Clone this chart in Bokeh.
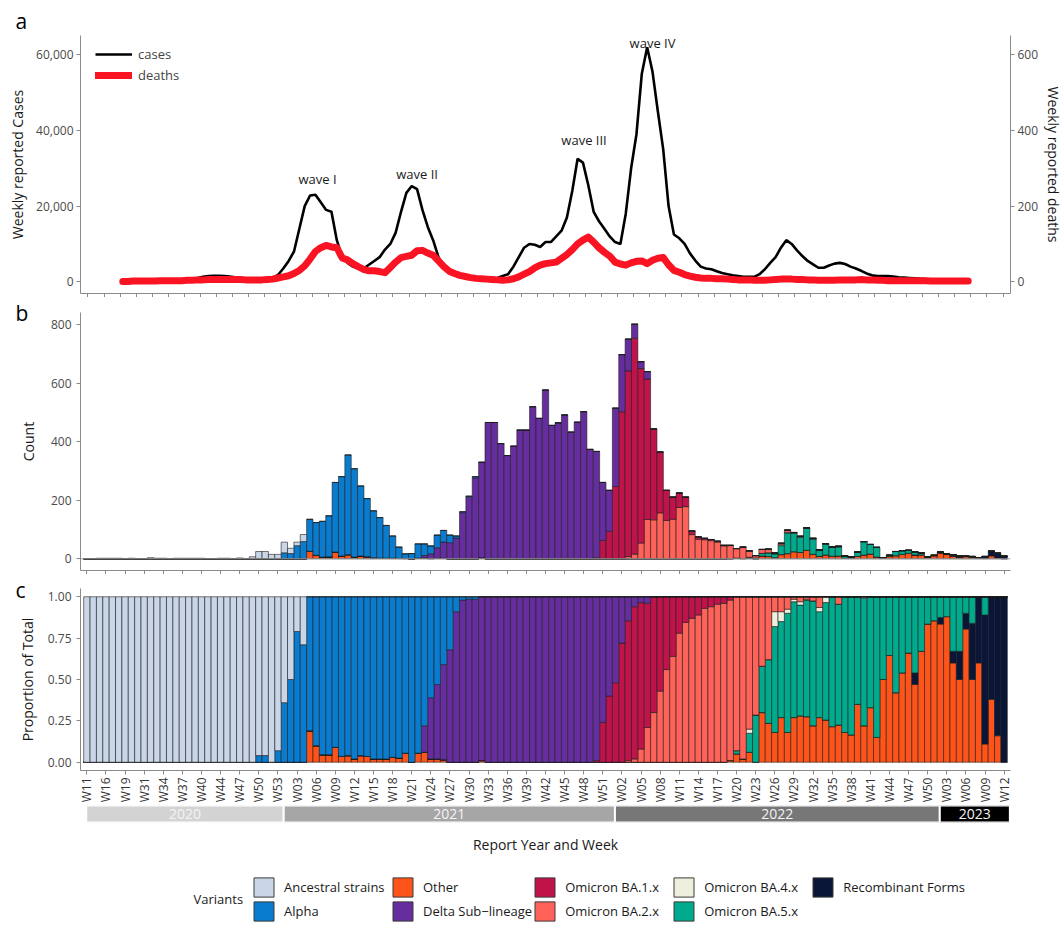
import math
from bokeh.plotting import figure
from bokeh.models import (Range1d, LinearAxis, FixedTicker, SingleIntervalTicker,
                          NumeralTickFormatter, Label, Legend, LegendItem,
                          ColumnDataSource, Span, Title)
from bokeh.layouts import column
from bokeh.embed import file_html
from bokeh.resources import INLINE
from bokeh.core.properties import value

FONT = "Open Sans"

# ---------------- panel a: weekly reported cases / deaths (weekly, 2020 W11 .. 2023 W12) -------------
cases = [100, 200, 300, 300, 300, 300, 250, 250, 300, 300,
         350, 400, 500, 700, 1000, 1300, 1500, 1600, 1600, 1500,
         1400, 1200, 1000, 900, 800, 800, 800, 900, 1000, 1800,
         3500, 5500, 8000, 14000, 20000, 22800, 23000, 21000, 19000, 18500,
         11000, 6500, 5000, 4000, 3500, 3500, 4500, 5500, 6500, 8500,
         10000, 13000, 18500, 23500, 25300, 24500, 19000, 14500, 11000, 6500,
         4000, 2800, 2000, 1500, 1200, 1000, 900, 800, 800, 900,
         1000, 1500, 2000, 4000, 6500, 9000, 10000, 9800, 9200, 10500,
         10500, 12000, 13500, 17000, 24000, 32500, 31500, 25500, 18500, 16000,
         14000, 12000, 10500, 10000, 18000, 30000, 39000, 55000, 62000, 55500,
         45000, 35000, 20000, 12500, 11500, 10000, 7500, 5600, 4000, 3500,
         3300, 2800, 2300, 2000, 1700, 1500, 1300, 1300, 1300, 2000,
         3300, 5000, 6500, 9000, 11000, 10000, 8300, 6800, 5500, 4600,
         3700, 3700, 4300, 4800, 5000, 4700, 4000, 3500, 2900, 2200,
         1700, 1500, 1500, 1500, 1400, 1200, 1100, 1000, 900, 800,
         700, 500, 400, 350, 300, 250, 220, 200, 170]
deaths = [1, 1, 2, 2, 2, 2, 2, 3, 3, 3,
          3, 3, 4, 4, 5, 5, 6, 6, 6, 6,
          6, 6, 6, 5, 5, 5, 5, 6, 7, 10,
          13, 16, 22, 30, 42, 60, 80, 90, 96, 92,
          90, 63, 58, 48, 40, 33, 29, 29, 27, 24,
          38, 52, 64, 67, 70, 82, 83, 76, 70, 55,
          40, 28, 22, 17, 14, 11, 9, 8, 7, 6,
          5, 4, 5, 8, 13, 20, 27, 37, 44, 48,
          50, 52, 62, 72, 85, 100, 110, 118, 105, 90,
          78, 68, 52, 47, 44, 50, 54, 55, 48, 57,
          62, 64, 45, 30, 25, 19, 15, 12, 10, 9,
          9, 8, 8, 7, 6, 5, 5, 5, 4, 4,
          4, 5, 6, 7, 7, 7, 6, 6, 5, 5,
          4, 4, 4, 4, 5, 5, 5, 5, 6, 5,
          5, 4, 4, 3, 3, 3, 3, 3, 3, 3,
          3, 2, 2, 2, 2, 2, 2, 2, 2]
wave_names = ["wave I", "wave II", "wave III", "wave IV"]
wave_week = [36.4, 55.0, 86.2, 99.0]
wave_height = [27200, 28600, 37600, 63000]

# ---------------- panels b / c: sequenced samples per report week -------------
weeks_2020 = ["W11", "W12", "W14", "W16", "W17", "W18", "W19", "W22", "W27", "W31", "W32",
              "W33", "W34", "W35", "W36", "W37", "W38", "W39", "W40", "W41", "W43", "W44",
              "W45", "W46", "W47", "W48", "W49", "W50", "W51", "W52", "W53"]
weeks_2021 = ["W%02d" % k for k in range(1, 53)]
weeks_2022 = ["W%02d" % k for k in range(1, 52)]
weeks_2023 = ["W%02d" % k for k in range(2, 13)]
years = ["2020", "2021", "2022", "2023"]

total_count = [1, 1, 2, 2, 2, 2, 1, 2, 1, 1,
               4, 2, 2, 1, 2, 2, 2, 2, 2, 1,
               1, 2, 2, 1, 3, 1, 7, 25, 25, 15,
               15, 57, 36, 57, 83, 135, 124, 128, 147, 261,
               281, 355, 308, 249, 206, 164, 141, 114, 78, 40,
               17, 18, 51, 51, 44, 81, 97, 81, 78, 161,
               214, 281, 330, 466, 466, 394, 353, 385, 440, 440,
               520, 480, 577, 456, 465, 492, 433, 467, 503, 374,
               367, 261, 234, 515, 698, 751, 802, 674, 640, 444,
               365, 234, 211, 225, 211, 95, 75, 70, 66, 60,
               46, 46, 35, 40, 27, 11, 32, 33, 20, 53,
               98, 90, 77, 106, 70, 31, 52, 40, 43, 10,
               6, 23, 59, 49, 39, 4, 12, 25, 28, 29,
               24, 20, 6, 12, 23, 17, 14, 9, 9, 8,
               4, 8, 26, 19, 9]

share_ancestral = [1.0] * 27 + [0.96, 0.96, 1.0, 0.93, 0.64, 0.50, 0.21, 0.29] + [0.0] * 110
share_alpha = ([0.0] * 27 + [0.04, 0.04, 0.0, 0.07, 0.36, 0.50, 0.79, 0.71] +
               [0.81, 0.90, 0.955, 0.955, 0.91, 0.965, 0.96, 0.98, 0.96, 0.965,
                0.98, 0.98, 0.98, 0.97, 0.975, 0.945, 1.0, 0.945, 0.78, 0.61,
                0.53, 0.41, 0.32, 0.09, 0.02, 0.015, 0.015, 0.0] + [0.0] * 82)
share_other = ([0.0] * 35 +
               [0.19, 0.10, 0.045, 0.045, 0.09, 0.035, 0.04, 0.02, 0.04, 0.035,
                0.02, 0.02, 0.02, 0.03, 0.025, 0.055, 0.0, 0.055, 0.06, 0.02,
                0.02, 0.015, 0.0, 0.0, 0.0, 0.0, 0.0, 0.01] + [0.0] * 38 +
               [0.01, 0.05, 0.02, 0.06, 0.0, 0.30, 0.235, 0.18, 0.27, 0.18,
                0.27, 0.28, 0.275, 0.22, 0.27, 0.255, 0.215, 0.225, 0.18, 0.165,
                0.35, 0.22, 0.33, 0.15, 0.50, 0.645, 0.42, 0.54, 0.66, 0.47,
                0.67, 0.835, 0.855, 0.835, 0.88, 0.60, 0.50, 0.805, 0.50, 0.60,
                0.11, 0.38, 0.16, 0.0])
share_delta = ([0.0] * 53 + [0.16, 0.37, 0.45, 0.575, 0.68, 0.91, 0.98, 0.985, 0.985, 0.99] +
               [1.0] * 17 + [0.99, 0.76, 0.60, 0.52, 0.28, 0.145, 0.06, 0.035, 0.04] + [0.0] * 56)
share_ba1 = ([0.0] * 80 +
             [0.01, 0.24, 0.40, 0.48, 0.72, 0.845, 0.92, 0.885, 0.75, 0.70,
              0.57, 0.44, 0.36, 0.22, 0.155, 0.13, 0.11, 0.07, 0.06, 0.045,
              0.04, 0.02] + [0.0] * 43)
share_ba2 = ([0.0] * 85 +
             [0.01, 0.02, 0.08, 0.21, 0.30, 0.43, 0.56, 0.64, 0.78, 0.845,
              0.87, 0.89, 0.93, 0.94, 0.955, 0.96, 0.97, 0.93, 0.98, 0.80,
              0.715, 0.42, 0.38, 0.09, 0.09, 0.075, 0.015, 0.03, 0.015, 0.025,
              0.065, 0.0, 0.0, 0.045] + [0.0] * 26)
share_ba4 = ([0.0] * 104 +
             [0.025, 0.0, 0.0, 0.0, 0.09, 0.06, 0.025, 0.015, 0.02, 0.005,
              0.0, 0.025, 0.035, 0.0, 0.0, 0.0, 0.0, 0.0, 0.01] + [0.0] * 22)
share_ba5 = ([0.0] * 102 +
             [0.02, 0.0, 0.115, 0.285, 0.28, 0.385, 0.64, 0.58, 0.72, 0.70,
              0.67, 0.705, 0.755, 0.64, 0.71, 0.785, 0.73, 0.82, 0.835, 0.65,
              0.77, 0.67, 0.85, 0.50, 0.355, 0.58, 0.46, 0.34, 0.46, 0.33,
              0.165, 0.145, 0.125, 0.12, 0.33, 0.33, 0.10, 0.16, 0.0, 0.11,
              0.0, 0.0] + [0.0])
share_recomb = ([0.0] * 130 +
                [0.07, 0.0, 0.0, 0.0, 0.04, 0.0, 0.07, 0.17, 0.095, 0.34,
                 0.40, 0.78, 0.62, 0.84, 1.0])

# stacking order, bottom to top
stack_keys = ["other", "recomb", "ba5", "ba4", "ba2", "ba1", "delta", "alpha", "ancestral"]
variant_names = {"ancestral": "Ancestral strains", "alpha": "Alpha", "other": "Other",
                 "delta": "Delta Sub\u2212lineage", "ba1": "Omicron BA.1.x", "ba2": "Omicron BA.2.x",
                 "ba4": "Omicron BA.4.x", "ba5": "Omicron BA.5.x", "recomb": "Recombinant Forms"}
variant_colors = {"ancestral": "#C9D6E8", "alpha": "#0A7CCF", "other": "#FF5419",
                  "delta": "#652D9E", "ba1": "#C0134A", "ba2": "#FF6259",
                  "ba4": "#EFEFDD", "ba5": "#00AA8C", "recomb": "#0A1638"}
legend_order = ["ancestral", "alpha", "other", "delta", "ba1", "ba2", "ba4", "ba5", "recomb"]
shares = {"ancestral": share_ancestral, "alpha": share_alpha, "other": share_other,
          "delta": share_delta, "ba1": share_ba1, "ba2": share_ba2, "ba4": share_ba4,
          "ba5": share_ba5, "recomb": share_recomb}
year_colors = ["#D3D3D3", "#A6A6A6", "#777777", "#000000"]

# ---------------- derived tables -------------
week_labels = weeks_2020 + weeks_2021 + weeks_2022 + weeks_2023
year_sizes = [len(weeks_2020), len(weeks_2021), len(weeks_2022), len(weeks_2023)]
N = len(week_labels)
idx = list(range(N))

prop = {k: [] for k in stack_keys}
for i in range(N):
    s = sum(shares[k][i] for k in stack_keys)
    for k in stack_keys:
        prop[k].append(shares[k][i] / s if s else 0.0)
cnt = {k: [prop[k][i] * total_count[i] for i in range(N)] for k in stack_keys}

src_b = ColumnDataSource(dict(x=idx, **cnt))
src_c = ColumnDataSource(dict(x=idx, **prop))

year_start, year_end = [], []
pos = 0
for n in year_sizes:
    year_start.append(pos)
    year_end.append(pos + n - 1)
    pos += n

# ---------------- styling helpers -------------
LEFT = 80


def style_axis(ax, label_size="12px"):
    ax.axis_line_color = "#8a8a8a"
    ax.axis_line_width = 1
    ax.major_tick_line_color = "#8a8a8a"
    ax.minor_tick_line_color = None
    ax.major_tick_in = 0
    ax.major_tick_out = 4
    ax.major_label_text_font = FONT
    ax.major_label_text_font_size = label_size
    ax.major_label_text_color = "#4a4a4a"
    ax.axis_label_text_font = FONT
    ax.axis_label_text_font_size = "14px"
    ax.axis_label_text_font_style = "normal"
    ax.axis_label_text_color = "#1a1a1a"


def hide_labels(ax):
    ax.major_label_text_font_size = "0px"
    ax.major_label_text_color = None
    ax.major_label_standoff = 0


def base(p):
    p.outline_line_color = None
    p.xgrid.visible = False
    p.ygrid.visible = False
    p.background_fill_color = "white"
    p.border_fill_color = "white"
    for ax in p.axis:
        style_axis(ax)


def letter(p, txt, standoff):
    p.title = Title(text=txt, align="left", offset=-65, standoff=standoff,
                    text_font=FONT, text_font_size="21px", text_font_style="normal",
                    text_color="black", vertical_align="bottom")


XR = Range1d(-1.0, 145.0)
bar_ticks = list(range(0, N, 3))

# ---------------- panel a -------------
pa = figure(frame_width=930, frame_height=258, x_range=Range1d(-7.9, 165.9),
            y_range=Range1d(-3100, 65100), output_backend="svg", toolbar_location=None,
            min_border_left=LEFT, min_border_right=2, min_border_top=35, min_border_bottom=4)
pa.extra_y_ranges = {"deaths": Range1d(-31, 651)}
weeks_a = list(range(len(cases)))
l_cases = pa.line(weeks_a, cases, line_color="black", line_width=2.6)
l_deaths = pa.line(list(range(len(deaths))), deaths, y_range_name="deaths",
                   line_color="#FA1423", line_width=7, line_cap="round", line_join="round")
ax_r = LinearAxis(y_range_name="deaths", axis_label="Weekly reported deaths",
                  ticker=SingleIntervalTicker(interval=200))
pa.add_layout(ax_r, "right")
base(pa)
pa.yaxis[0].ticker = SingleIntervalTicker(interval=20000)
pa.yaxis[0].formatter = NumeralTickFormatter(format="0,0")
pa.yaxis[0].axis_label = "Weekly reported Cases"
pa.yaxis[0].axis_label_standoff = 6
pa.yaxis[0].major_label_standoff = 3
ax_r.major_label_standoff = 3
ax_r.axis_label_standoff = 3
pa.xaxis.ticker = FixedTicker(ticks=[-6.5 + 3 * k for k in range(58)])
hide_labels(pa.xaxis[0])
for name, wx, wy in zip(wave_names, wave_week, wave_height):
    pa.add_layout(Label(x=wx, y=wy, text=name, text_align="center", text_baseline="middle",
                        text_font=FONT, text_font_size="13px", text_color="#1a1a1a"))
leg_a = Legend(items=[LegendItem(label="cases", renderers=[l_cases]),
                      LegendItem(label="deaths", renderers=[l_deaths])],
               location=(7, 201), margin=0, padding=8, spacing=3,
               glyph_width=37, glyph_height=16, label_standoff=6, label_height=18,
               label_text_font=FONT, label_text_font_size="13px",
               background_fill_alpha=0, border_line_alpha=0)
pa.add_layout(leg_a)
letter(pa, "a", 2)

# ---------------- panel b -------------
pb = figure(frame_width=930, frame_height=258, x_range=XR, y_range=Range1d(-40, 842),
            output_backend="svg", toolbar_location=None,
            min_border_left=LEFT, min_border_right=2, min_border_top=15, min_border_bottom=4)
pb.add_layout(Span(location=0, dimension="width", line_color="#9a9a9a", line_width=1))
pb.vbar_stack(stack_keys, x="x", width=1.0, source=src_b,
              fill_color=[variant_colors[k] for k in stack_keys],
              line_color="#1e1e1e", line_width=0.6)
base(pb)
pb.yaxis.ticker = SingleIntervalTicker(interval=200)
pb.yaxis.axis_label = "Count"
pb.yaxis.axis_label_standoff = 10
pb.xaxis.ticker = FixedTicker(ticks=bar_ticks)
hide_labels(pb.xaxis[0])
letter(pb, "b", -28)

# ---------------- panel c -------------
pc = figure(frame_width=930, frame_height=182, x_range=XR, y_range=Range1d(-0.05, 1.05),
            output_backend="svg", toolbar_location=None,
            min_border_left=LEFT, min_border_right=2, min_border_top=14, min_border_bottom=35)
pc.vbar_stack(stack_keys, x="x", width=1.0, source=src_c,
              fill_color=[variant_colors[k] for k in stack_keys],
              line_color="#1e1e1e", line_width=0.6)
base(pc)
pc.yaxis.ticker = FixedTicker(ticks=[0, 0.25, 0.5, 0.75, 1.0])
pc.yaxis.formatter = NumeralTickFormatter(format="0.00")
pc.yaxis.axis_label = "Proportion of Total"
pc.yaxis.axis_label_standoff = 8
pc.xaxis.ticker = FixedTicker(ticks=bar_ticks)
pc.xaxis.major_label_overrides = {i: week_labels[i] for i in bar_ticks}
pc.xaxis.major_label_orientation = math.pi / 2
pc.xaxis.major_label_standoff = 3
pc.xaxis.major_label_text_color = "#333333"
letter(pc, "c", -30)

# ---------------- year band -------------
pdd = figure(frame_width=930, frame_height=17, x_range=XR, y_range=Range1d(0, 1),
             output_backend="svg", toolbar_location=None,
             min_border_left=LEFT, min_border_right=2, min_border_top=0, min_border_bottom=0)
band_src = ColumnDataSource(dict(
    left=[s - 0.1 for s in year_start], right=[e + 0.9 for e in year_end],
    mid=[(s + e + 0.8) / 2 for s, e in zip(year_start, year_end)],
    year=years, color=year_colors))
pdd.quad(left="left", right="right", bottom=0, top=1, fill_color="color",
         line_color="white", line_width=2, source=band_src)
pdd.text(x="mid", y=0.5, text="year", source=band_src, text_align="center",
         text_baseline="middle", text_color="#F4F4F4", text_font=value(FONT),
         text_font_size="14px")
base(pdd)
pdd.yaxis.visible = False
pdd.xaxis.ticker = FixedTicker(ticks=[])
pdd.xaxis.axis_line_color = None
pdd.xaxis.major_tick_line_color = None
pdd.xaxis.major_tick_out = 0
hide_labels(pdd.xaxis[0])
pdd.xaxis.axis_label = "Report Year and Week"
pdd.xaxis.axis_label_standoff = 12

# ---------------- legend -------------
pleg = figure(frame_width=930, frame_height=68, x_range=Range1d(0, 1), y_range=Range1d(0, 1),
              output_backend="svg", toolbar_location=None,
              min_border_left=LEFT, min_border_right=2, min_border_top=0, min_border_bottom=0)
base(pleg)
pleg.xaxis.visible = False
pleg.yaxis.visible = False
items = []
for k in legend_order:
    # hidden copy of the panel-c bars, used only as the legend key
    r = pleg.vbar(x="x", top=k, width=1, source=src_c, fill_color=variant_colors[k],
                  line_color="#3a3a3a", line_width=1, visible=False)
    items.append(LegendItem(label=variant_names[k], renderers=[r]))
leg = Legend(items=items, orientation="vertical", nrows=2, location=(171, 1),
             margin=0, padding=0, spacing=0, glyph_width=25, glyph_height=24,
             label_standoff=8, label_height=24, label_width=106, label_text_font=FONT,
             label_text_font_size="13px", label_text_color="#1a1a1a",
             background_fill_alpha=0, border_line_alpha=0)
pleg.add_layout(leg)
pleg.add_layout(Label(x=113, y=26, x_units="screen", y_units="screen", text="Variants",
                      text_font=FONT, text_font_size="13px", text_color="#1a1a1a",
                      text_baseline="middle", text_align="left"))

layout = column(pa, pb, pc, pdd, pleg)
open("out.html", "w").write(file_html(layout, INLINE))
